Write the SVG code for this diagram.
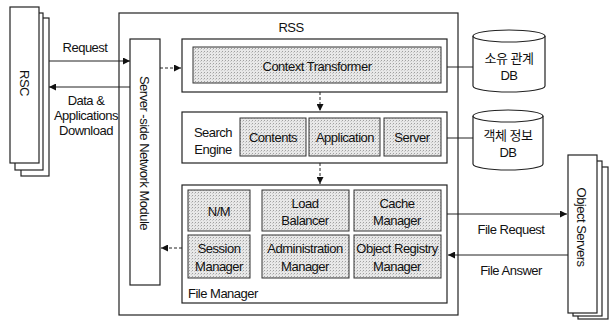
<svg xmlns="http://www.w3.org/2000/svg" width="613" height="323" viewBox="0 0 613 323">
<defs>
<pattern id="stip" width="3" height="3" patternUnits="userSpaceOnUse">
<rect width="3" height="3" fill="#e8e8e8"/>
<rect width="1" height="1" fill="#a0a0a0"/>
<rect x="2" y="1" width="1" height="1" fill="#cacaca"/>
</pattern>
<marker id="ah" viewBox="0 0 10 10" refX="10" refY="5" markerWidth="7" markerHeight="7" orient="auto-start-reverse" markerUnits="userSpaceOnUse">
<path d="M0,0 L10,5 L0,10 z" fill="#111"/>
</marker>
</defs>
<style>
.box{fill:#fff;stroke:#222;stroke-width:1.2}
.cell{fill:url(#stip);stroke:#333;stroke-width:1}
.t{font-family:"Liberation Sans",Arial,sans-serif;font-size:13px;fill:#111;letter-spacing:-0.5px;text-anchor:middle}
.k{font-family:"Liberation Sans","Noto Sans CJK KR",sans-serif}
.l{text-anchor:start}
.ln{stroke:#222;stroke-width:1;fill:none}
.da{stroke-dasharray:3,2}
</style>
<rect width="613" height="323" fill="#fff"/>

<g id="rsc">
<rect class="box" x="21" y="18" width="28" height="158"/>
<rect class="box" x="15" y="13" width="28" height="157"/>
<rect class="box" x="10" y="7" width="29" height="156"/>
<text class="t" transform="translate(20,83) rotate(90)">RSC</text>
</g>

<g id="rss">
<rect class="box" x="119" y="13" width="339" height="302"/>
<text class="t" x="291" y="32" font-size="14">RSS</text>
</g>

<g id="network-module">
<rect class="box" x="130" y="39" width="30" height="246"/>
<text class="t" transform="translate(140,153) rotate(90)">Server  -side Network Module</text>
</g>

<g id="context-transformer">
<rect class="box" x="182" y="39" width="265" height="53"/>
<rect class="cell" x="193" y="47" width="248" height="36"/>
<text class="t" x="317" y="71">Context Transformer</text>
</g>

<g id="search-engine">
<rect class="box" x="182" y="112" width="265" height="51"/>
<text class="t" x="213" y="137">Search</text>
<text class="t" x="213" y="154">Engine</text>
<rect class="cell" x="240" y="118" width="66" height="38"/>
<text class="t" x="273" y="142">Contents</text>
<rect class="cell" x="309" y="118" width="71" height="38"/>
<text class="t" x="345" y="142">Application</text>
<rect class="cell" x="384" y="118" width="57" height="38"/>
<text class="t" x="412" y="142">Server</text>
</g>

<g id="file-manager">
<rect class="box" x="182" y="185" width="265" height="118"/>
<rect class="cell" x="188" y="190" width="62" height="41"/>
<text class="t" x="219" y="216">N/M</text>
<rect class="cell" x="262" y="190" width="87" height="41"/>
<text class="t" x="305" y="208">Load</text>
<text class="t" x="305" y="225">Balancer</text>
<rect class="cell" x="354" y="190" width="87" height="41"/>
<text class="t" x="397" y="208">Cache</text>
<text class="t" x="397" y="225">Manager</text>
<rect class="cell" x="188" y="235" width="62" height="43"/>
<text class="t" x="219" y="253">Session</text>
<text class="t" x="219" y="271">Manager</text>
<rect class="cell" x="262" y="235" width="87" height="43"/>
<text class="t" x="305" y="253">Administration</text>
<text class="t" x="305" y="271">Manager</text>
<rect class="cell" x="354" y="235" width="87" height="43"/>
<text class="t" x="397" y="253">Object Registry</text>
<text class="t" x="397" y="271">Manager</text>
<text class="t l" x="188" y="298">File Manager</text>
</g>

<g id="db-ownership">
<path class="box" d="M473,36 v50 a36,6 0 0 0 72,0 v-50"/>
<ellipse class="box" cx="509" cy="36" rx="36" ry="6"/>
<text class="t k" x="509" y="63">소유 관계</text>
<text class="t" x="509" y="80">DB</text>
</g>

<g id="db-object">
<path class="box" d="M473,116 v48 a35,6 0 0 0 70,0 v-48"/>
<ellipse class="box" cx="508" cy="116" rx="35" ry="6"/>
<text class="t k" x="508" y="140">객체 정보</text>
<text class="t" x="508" y="157">DB</text>
</g>

<g id="object-servers">
<rect class="box" x="578" y="167" width="30" height="152"/>
<rect class="box" x="573" y="161" width="29" height="155"/>
<rect class="box" x="568" y="155" width="29" height="158"/>
<text class="t" transform="translate(577,227) rotate(90)" font-size="14">Object Servers</text>
</g>

<g id="connectors">
<line class="ln" x1="49" y1="61" x2="130" y2="61" marker-end="url(#ah)"/>
<text class="t" x="85" y="52">Request</text>
<line class="ln" x1="130" y1="87" x2="49" y2="87" marker-end="url(#ah)"/>
<text class="t" x="86" y="105">Data &amp;</text>
<text class="t" x="86" y="120">Applications</text>
<text class="t" x="86" y="135">Download</text>
<line class="ln da" x1="160" y1="68" x2="181" y2="68" marker-end="url(#ah)"/>
<line class="ln da" x1="182" y1="248" x2="161" y2="248" marker-end="url(#ah)"/>
<line class="ln da" x1="320" y1="92" x2="320" y2="111" marker-end="url(#ah)"/>
<line class="ln da" x1="320" y1="163" x2="320" y2="184" marker-end="url(#ah)"/>
<line class="ln" x1="447" y1="67" x2="473" y2="67"/>
<line class="ln" x1="447" y1="138" x2="473" y2="138"/>
<line class="ln" x1="447" y1="214" x2="567" y2="214" marker-end="url(#ah)"/>
<text class="t" x="511" y="234">File Request</text>
<line class="ln" x1="568" y1="255" x2="448" y2="255" marker-end="url(#ah)"/>
<text class="t" x="511" y="275">File Answer</text>
</g>
</svg>
